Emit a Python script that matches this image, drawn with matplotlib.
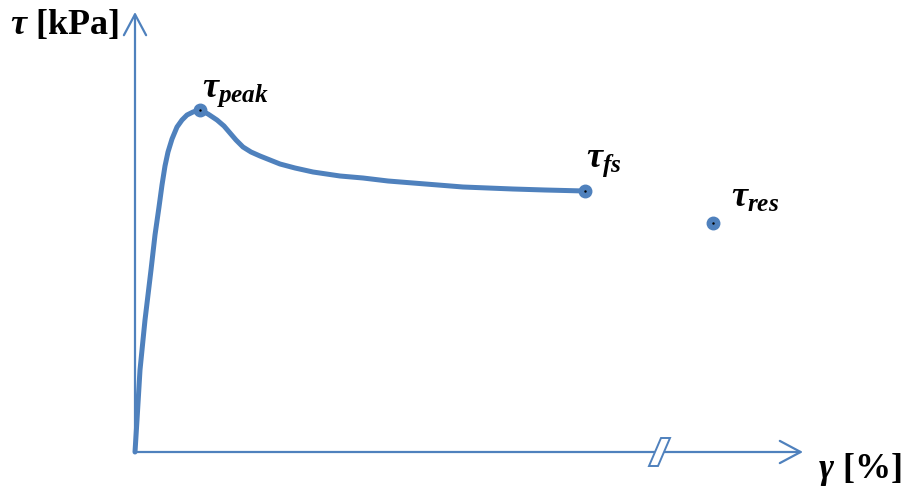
import matplotlib
matplotlib.use('Agg')
import matplotlib.pyplot as plt
from matplotlib.patches import Polygon

plt.rcParams['mathtext.fontset'] = 'custom'
plt.rcParams['mathtext.it'] = 'Liberation Serif:italic:bold'
plt.rcParams['mathtext.rm'] = 'Liberation Serif:bold'
plt.rcParams['mathtext.bf'] = 'Liberation Serif:bold'

# stress-strain curve (schematic units)
gamma = [0, 2, 5, 10, 16, 20, 24, 27, 30, 33, 37, 42, 47, 52, 58, 65,
         73, 82, 89, 95, 101, 108, 116, 125, 135, 145, 160, 178, 205,
         228, 253, 278, 303, 328, 353, 378, 410, 450]
tau = [0, 32, 82, 132, 182, 217, 245, 267, 286, 300, 313, 325, 332, 337, 340, 342,
       338, 332, 326, 319, 312, 305, 300, 296, 292, 288, 284, 280, 276,
       274, 271, 269, 267, 265, 264, 263, 262, 261]

# characteristic points
points = ['peak', 'fs', 'res']
point_gamma = [65, 450, 578]
point_tau = [342, 261, 229]

blue = '#4F81BD'

fig = plt.figure(figsize=(9.05, 4.88), dpi=100)
ax = fig.add_axes([0, 0, 1, 1])
ax.set_xlim(-135, 770)
ax.set_ylim(-36, 452)
ax.axis('off')

# axes with open arrow heads
arrow = dict(arrowstyle='->,head_length=0.75,head_width=0.4', color=blue, lw=1.6,
             mutation_scale=20, shrinkA=0, shrinkB=0)
ax.annotate('', xy=(0, 440), xytext=(0, 0), arrowprops=arrow)
ax.annotate('', xy=(668, 0), xytext=(0, 0), arrowprops=arrow)

# axis break
ax.add_patch(Polygon([(526, 14), (535, 14), (523, -14), (514, -14)], closed=True,
                     facecolor='white', edgecolor=blue, lw=1.4, zorder=5))

ax.plot(gamma, tau, color=blue, lw=3.6, solid_joinstyle='round', solid_capstyle='round', zorder=3)
ax.plot(point_gamma, point_tau, 'o', color=blue, ms=9, zorder=4)
ax.plot(point_gamma, point_tau, '.', color='black', ms=1.5, zorder=6)

# labels
txt = dict(fontsize=26, family='Liberation Serif', fontweight='bold', color='black')
ax.text(-125, 418, r'$\tau$ [kPa]', ha='left', va='baseline', **txt)
ax.text(683, -26, r'$\gamma$ [%]', ha='left', va='baseline', **txt)

offsets = [(2, 13), (1, 24), (18, 16)]
for name, gx, ty, (dx, dy) in zip(points, point_gamma, point_tau, offsets):
    ax.text(gx + dx, ty + dy, r'$\tau_{%s}$' % name, ha='left', va='baseline', **txt)

plt.savefig('out.png', dpi=100)
